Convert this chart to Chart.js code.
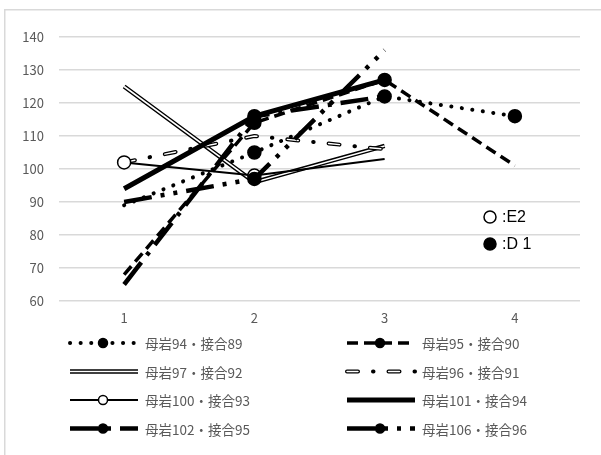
<!DOCTYPE html>
<html>
<head>
<meta charset="utf-8">
<script src="https://cdn.jsdelivr.net/npm/chart.js@4"></script>
<style>
    html, body { margin: 0; padding: 0; background: #fff; }
    #wrap { width: 601px; height: 455px; position: relative; }
</style>
</head>
<body>
<div id="wrap"><canvas id="chart-canvas" width="601" height="455"></canvas></div>
<script>
// Datos
const categories = ['1', '2', '3', '4'];
const yTicks = [60, 70, 80, 90, 100, 110, 120, 130, 140];

const names = ['母岩94・接合89', '母岩95・接合90', '母岩97・接合92', '母岩96・接合91',
               '母岩100・接合93', '母岩101・接合94', '母岩102・接合95', '母岩106・接合96'];

const s9489 = [89, 105, 122, 116];
const s9590 = [68, 114, 127, 101];
const s9792 = [125, 96, 107, null];
const s9691 = [102, 110, 106, null];
const s10093 = [102, 98, 103, null];
const s10194 = [94, 116, 127, null];
const s10295 = [65, 116, 122, null];
const s10696 = [90, 97, 136, null];

// marcadores por punto: 'D' = D1 (relleno), 'E' = E2 (hueco), null = ninguno
const m9489 = [null, 'D', 'D', 'D'];
const m9590 = [null, 'D', 'D', null];
const m9792 = [null, null, null, null];
const m9691 = [null, null, null, null];
const m10093 = ['E', 'E', null, null];
const m10194 = [null, null, null, null];
const m10295 = [null, 'D', null, null];
const m10696 = [null, 'D', null, null];

const series = [s9489, s9590, s9792, s9691, s10093, s10194, s10295, s10696];
const markers = [m9489, m9590, m9792, m9691, m10093, m10194, m10295, m10696];

// Estilos de línea (legend marker: 'D' / 'E' / null)
const styles = [
    { width: 4, dash: [0.1, 10.5], cap: 'round', legendMarker: 'D' },
    { width: 3.5, dash: [11, 6], cap: 'butt', legendMarker: 'D' },
    { width: 4.5, dash: [], cap: 'butt', legendMarker: null, inner: { width: 1.6, dash: [] } },
    { width: 4, dash: [11, 15, 0.5, 15], cap: 'round', legendMarker: null, inner: { width: 1.4, dash: [11, 30.5] } },
    { width: 2, dash: [], cap: 'butt', legendMarker: 'E' },
    { width: 5, dash: [], cap: 'butt', legendMarker: null },
    { width: 4.5, dash: [28, 9, 4, 9], cap: 'butt', legendMarker: 'D' },
    { width: 4.5, dash: [28, 9, 4, 9, 4, 9], cap: 'butt', legendMarker: 'D' }
];

const canvas = document.getElementById('chart-canvas');
const n = series.length;

const datasets = [];
series.forEach((data, i) => {
    const st = styles[i];
    datasets.push({
        label: names[i],
        data: data,
        borderColor: '#000',
        borderWidth: st.width,
        borderDash: st.dash,
        borderCapStyle: st.cap,
        borderJoinStyle: 'round',
        tension: 0,
        spanGaps: false,
        pointRadius: markers[i].map(m => m ? 6.5 : 0),
        pointBackgroundColor: markers[i].map(m => m === 'E' ? '#fff' : '#000'),
        pointBorderColor: '#000',
        pointBorderWidth: 1.5,
        pointHoverRadius: markers[i].map(m => m ? 6.5 : 0),
        order: (n - i) * 2 + 1
    });
    if (st.inner) {
        // línea blanca interior para el trazo doble / guiones huecos
        datasets.push({
            label: '_inner',
            data: data,
            borderColor: '#fff',
            borderWidth: st.inner.width,
            borderDash: st.inner.dash,
            borderCapStyle: st.cap,
            tension: 0,
            pointRadius: 0,
            pointHoverRadius: 0,
            order: (n - i) * 2
        });
    }
});

const cjkFont = "'Noto Sans CJK JP', 'Noto Sans', sans-serif";

// Marco exterior
const framePlugin = {
    id: 'frame',
    beforeDraw(chart) {
        const ctx = chart.ctx;
        ctx.save();
        ctx.fillStyle = '#fff';
        ctx.fillRect(0, 0, chart.width, chart.height);
        ctx.strokeStyle = '#d9d9d9';
        ctx.lineWidth = 1.5;
        ctx.strokeRect(4.75, 9.75, 700, 700);
        ctx.restore();
    }
};

const drawMarker = (ctx, x, y, kind, r) => {
    ctx.save();
    ctx.setLineDash([]);
    ctx.beginPath();
    ctx.arc(x, y, r, 0, Math.PI * 2);
    ctx.fillStyle = kind === 'E' ? '#fff' : '#000';
    ctx.fill();
    ctx.lineWidth = 1.5;
    ctx.strokeStyle = '#000';
    ctx.stroke();
    ctx.restore();
};

// Leyenda en dos columnas + leyenda de marcadores E2 / D1
const legendPlugin = {
    id: 'customLegend',
    afterDraw(chart) {
        const ctx = chart.ctx;
        const cols = [{ x0: 70, x1: 138, tx: 145 }, { x0: 347, x1: 415, tx: 422 }];
        const rowsY = [343, 371.5, 400, 428.5];
        ctx.save();
        names.forEach((name, i) => {
            const st = styles[i];
            const c = cols[i % 2];
            const y = rowsY[Math.floor(i / 2)];
            ctx.beginPath();
            ctx.setLineDash(st.dash);
            ctx.lineCap = st.cap;
            ctx.lineWidth = st.width;
            ctx.strokeStyle = '#000';
            ctx.moveTo(c.x0, y);
            ctx.lineTo(c.x1, y);
            ctx.stroke();
            if (st.inner) {
                ctx.beginPath();
                ctx.setLineDash(st.inner.dash);
                ctx.lineWidth = st.inner.width;
                ctx.strokeStyle = '#fff';
                ctx.moveTo(c.x0, y);
                ctx.lineTo(c.x1, y);
                ctx.stroke();
            }
            if (st.legendMarker) {
                drawMarker(ctx, (c.x0 + c.x1) / 2 - 1, y, st.legendMarker, 4.5);
            }
            ctx.setLineDash([]);
            ctx.fillStyle = '#595959';
            ctx.font = "13.5px " + cjkFont;
            ctx.textAlign = 'left';
            ctx.textBaseline = 'middle';
            ctx.fillText(name, c.tx, y + 1);
        });

        drawMarker(ctx, 490, 217, 'E', 6);
        drawMarker(ctx, 490, 244, 'D', 6);
        ctx.fillStyle = '#000';
        ctx.font = "16px 'Liberation Sans', Arial, sans-serif";
        ctx.textBaseline = 'middle';
        ctx.fillText(':E2', 502, 218);
        ctx.fillText(':D 1', 502, 245);
        ctx.restore();
    }
};

const config = {
    type: 'line',
    data: { labels: categories, datasets: datasets },
    options: {
        responsive: false,
        animation: false,
        devicePixelRatio: 1,
        layout: { padding: { left: 0, right: 21, top: 37, bottom: 132 } },
        plugins: {
            legend: { display: false },
            tooltip: { enabled: false }
        },
        scales: {
            x: {
                offset: true,
                grid: { display: false, drawTicks: false },
                border: { display: false },
                ticks: { color: '#595959', font: { size: 13, family: cjkFont }, padding: 9 },
                afterFit: (scale) => { scale.height = 22; }
            },
            y: {
                min: yTicks[0],
                max: yTicks[yTicks.length - 1],
                afterBuildTicks: (scale) => { scale.ticks = yTicks.map(v => ({ value: v })); },
                grid: { color: '#d9d9d9', lineWidth: 1.5, drawTicks: false },
                border: { display: false },
                ticks: { color: '#595959', font: { size: 13, family: cjkFont }, padding: 15 },
                afterFit: (scale) => { scale.width = 59; }
            }
        }
    },
    plugins: [framePlugin, legendPlugin]
};

new Chart(canvas.getContext('2d'), config);
</script>
</body>
</html>
